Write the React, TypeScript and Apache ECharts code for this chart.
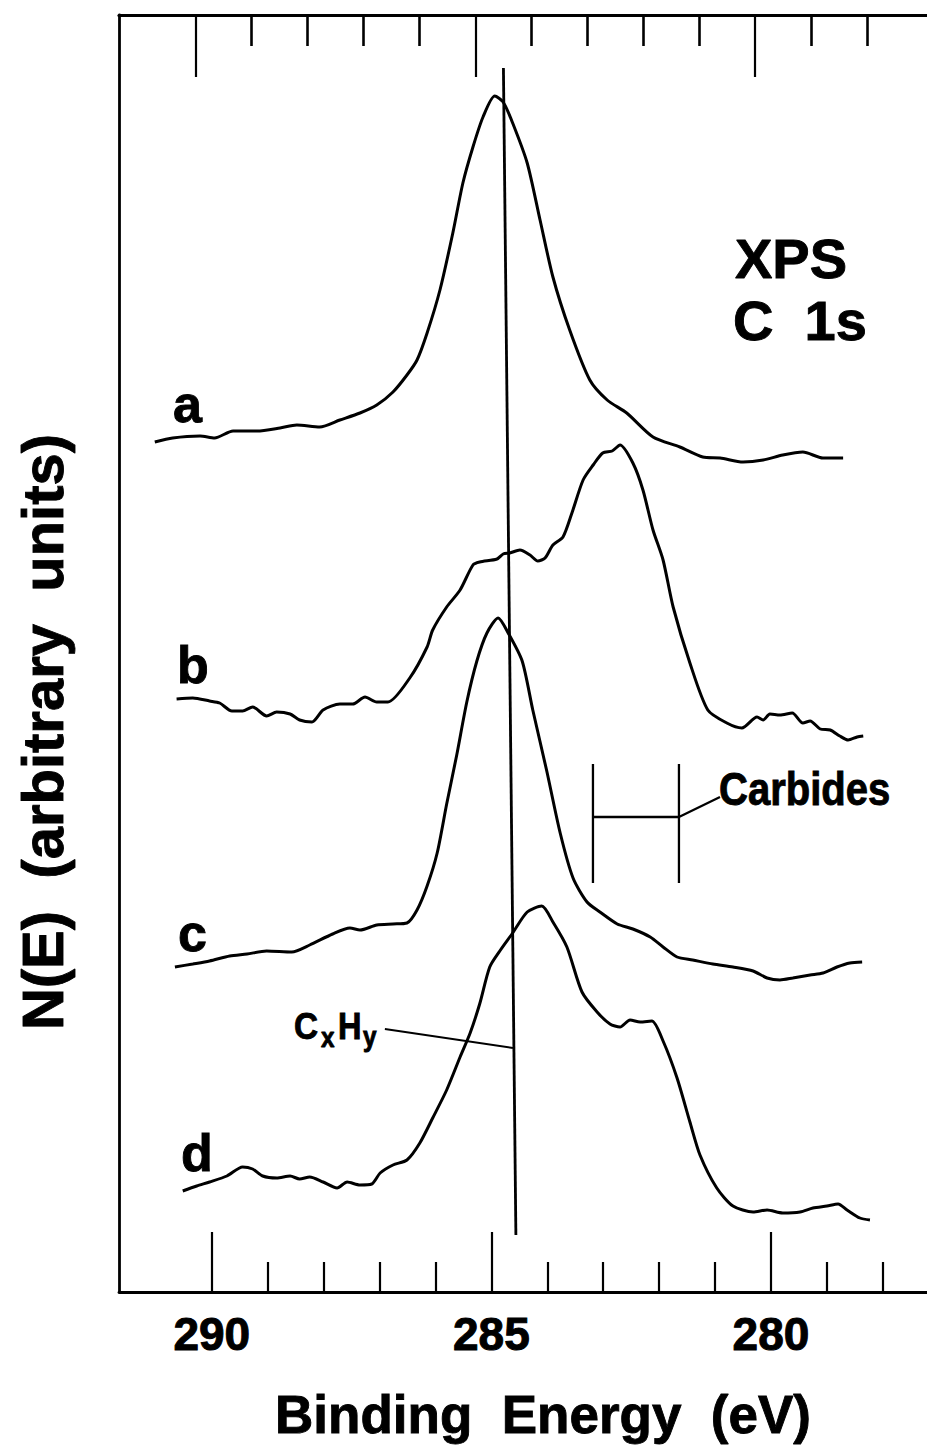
import { useEffect, useRef } from "react";
import * as echarts from "echarts";

// Binding energy (eV) vs N(E) (arbitrary units, curves offset as in the figure)
const curveA: [number, number][] = [
  [291.02, 85.0], [290.70, 85.4], [290.21, 85.6], [289.95, 85.4], [289.62, 86.1], [289.19, 86.1],
  [288.78, 86.4], [288.48, 86.7], [288.07, 86.5], [287.71, 87.2], [287.35, 87.9], [287.05, 88.7],
  [286.76, 90.0], [286.51, 91.7], [286.33, 93.2], [286.15, 95.9], [285.92, 100.2], [285.69, 105.9],
  [285.51, 110.9], [285.33, 114.5], [285.15, 117.5], [284.94, 119.6], [284.79, 119.0], [284.62, 116.9],
  [284.36, 112.9], [284.13, 107.2], [283.90, 101.5], [283.60, 96.2], [283.24, 91.2], [282.93, 89.2],
  [282.58, 87.9], [282.11, 85.5], [281.63, 84.5], [281.22, 83.5], [280.91, 83.4], [280.50, 83.0],
  [280.14, 83.2], [279.79, 83.7], [279.43, 84.0], [279.07, 83.4], [278.71, 83.4],
];

const curveB: [number, number][] = [
  [290.63, 59.3], [290.34, 59.4], [290.04, 59.1], [289.86, 58.9], [289.64, 58.1], [289.45, 58.1],
  [289.27, 58.5], [289.02, 57.6], [288.84, 58.0], [288.60, 57.8], [288.43, 57.2], [288.21, 57.0],
  [288.01, 58.2], [287.71, 58.8], [287.48, 58.8], [287.26, 59.5], [287.05, 59.0], [286.85, 59.0],
  [286.46, 61.4], [286.15, 64.5], [286.05, 66.2], [285.80, 68.5], [285.56, 70.2], [285.33, 72.7],
  [285.21, 73.0], [284.90, 73.3], [284.79, 73.8], [284.67, 73.9], [284.49, 74.2], [284.31, 73.7],
  [284.17, 73.1], [284.04, 73.4], [283.90, 74.7], [283.72, 75.5], [283.56, 77.9], [283.36, 81.2],
  [283.18, 82.7], [283.01, 83.9], [282.84, 84.1], [282.70, 84.7], [282.47, 82.9], [282.29, 80.2],
  [282.11, 76.2], [281.93, 73.2], [281.75, 68.5], [281.45, 62.9], [281.13, 58.2], [280.79, 56.9],
  [280.52, 56.4], [280.25, 57.5], [280.14, 57.2], [280.02, 57.8], [279.84, 57.7], [279.62, 57.9],
  [279.43, 56.9], [279.30, 57.1], [279.12, 56.3], [278.94, 56.2], [278.77, 55.6], [278.62, 55.2],
  [278.46, 55.5], [278.35, 55.6],
];

const curveC: [number, number][] = [
  [290.66, 32.5], [290.34, 32.8], [290.04, 33.1], [289.68, 33.6], [289.37, 33.8], [289.02, 34.1],
  [288.57, 34.0], [288.25, 34.7], [287.84, 35.8], [287.53, 36.4], [287.35, 36.2], [287.05, 36.7],
  [286.76, 36.8], [286.51, 36.9], [286.33, 38.2], [286.15, 40.6], [285.97, 43.9], [285.80, 48.8],
  [285.62, 53.7], [285.44, 59.0], [285.26, 63.1], [285.08, 65.9], [284.88, 67.4], [284.70, 65.9],
  [284.45, 63.1], [284.26, 58.2], [284.01, 52.1], [283.77, 45.9], [283.54, 41.4], [283.29, 39.0],
  [283.06, 38.0], [282.75, 36.8], [282.47, 36.3], [282.16, 35.5], [281.93, 34.5], [281.68, 33.5],
  [281.40, 33.2], [281.04, 32.8], [280.68, 32.5], [280.32, 32.1], [280.07, 31.4], [279.84, 31.2],
  [279.61, 31.4], [279.30, 31.7], [279.07, 31.9], [278.82, 32.5], [278.59, 32.9], [278.37, 33.0],
];

const curveD: [number, number][] = [
  [290.52, 10.1], [290.27, 10.6], [290.04, 11.0], [289.73, 11.6], [289.45, 12.5], [289.27, 12.3],
  [289.09, 11.6], [288.84, 11.4], [288.60, 11.6], [288.43, 11.3], [288.25, 11.5], [288.01, 11.0],
  [287.76, 10.4], [287.58, 11.0], [287.35, 10.7], [287.14, 10.8], [286.99, 11.9], [286.76, 12.7],
  [286.51, 13.2], [286.28, 14.9], [286.05, 17.4], [285.80, 20.2], [285.56, 23.5], [285.38, 25.9],
  [285.21, 28.8], [285.03, 32.5], [284.85, 34.1], [284.62, 35.9], [284.36, 38.0], [284.10, 38.6],
  [283.90, 37.0], [283.65, 34.5], [283.38, 30.0], [283.11, 28.0], [282.88, 26.8], [282.70, 26.5],
  [282.52, 27.2], [282.34, 27.0], [282.13, 27.1], [281.93, 25.1], [281.68, 21.4], [281.45, 17.0],
  [281.27, 13.7], [280.97, 10.4], [280.68, 8.6], [280.32, 8.0], [280.07, 8.2], [279.79, 7.9],
  [279.48, 8.0], [279.25, 8.4], [279.00, 8.6], [278.80, 8.8], [278.64, 8.2], [278.41, 7.4],
  [278.23, 7.2],
];

// Reference line for CxHy and its leader
const cxhyLine: [number, number][] = [[284.785, 122.4], [284.562, 5.7]];
const cxhyLeader: [number, number][] = [[286.905, 26.3], [284.615, 24.4]];

// Carbides range bracket
const carbideLeft: [number, number][] = [[283.184, 52.8], [283.184, 40.9]];
const carbideRight: [number, number][] = [[281.646, 52.8], [281.646, 40.9]];
const carbideBar: [number, number][] = [[283.184, 47.5], [281.646, 47.5], [280.912, 49.5]];

const majorTicks = [290, 285, 280];
const minorTicks = [289, 288, 287, 286, 284, 283, 282, 281, 279, 278];

const xMin = 277.21;
const xMax = 291.66;
const topShift = 0.286; // scanned frame skew of the upper tick scale
const yMin = 0;
const yMax = 127.7;

const FONT = '"Liberation Sans", Arial, Helvetica, sans-serif';

export default function App() {
  const ref = useRef<HTMLDivElement>(null);

  useEffect(() => {
    if (!ref.current) return;
    const chart = echarts.init(ref.current, null, { renderer: "svg" });

    const lineSeries = (data: [number, number][], width: number, smooth: number | boolean = false) => ({
      type: "line",
      data,
      showSymbol: false,
      symbol: "none",
      smooth,
      silent: true,
      lineStyle: { color: "#000", width },
      xAxisIndex: 0,
      yAxisIndex: 0,
    });

    const baseX = (position: string, min: number, max: number) => ({
      type: "value",
      position,
      min,
      max,
      inverse: true,
      splitLine: { show: false },
      axisLine: { show: false },
      axisLabel: { show: false },
      axisTick: { show: false },
    });

    const txt = (
      text: string,
      x: number,
      y: number,
      size: number,
      align = "left",
      rotation = 0,
      scaleX = 1
    ) => ({
      type: "text",
      x,
      y,
      rotation,
      scaleX,
      silent: true,
      style: {
        text,
        fill: "#000",
        stroke: "#000",
        lineWidth: 0.9,
        font: `bold ${size}px ${FONT}`,
        textAlign: align,
        textVerticalAlign: "middle",
      },
    });

    chart.setOption({
      animation: false,
      backgroundColor: "#fff",
      grid: { left: 119, right: 0, top: 15, bottom: 153, containLabel: false },
      xAxis: [
        {
          ...baseX("bottom", xMin, xMax),
          axisLine: { show: true, onZero: false, lineStyle: { color: "#000", width: 2.8 } },
          axisTick: {
            show: true,
            inside: true,
            length: 60,
            customValues: majorTicks,
            lineStyle: { color: "#000", width: 2.2 },
          },
          axisLabel: {
            show: true,
            customValues: majorTicks,
            margin: 19,
            color: "#000",
            fontSize: 46,
            fontWeight: "bold",
            fontFamily: FONT,
            textBorderColor: "#000",
            textBorderWidth: 1,
          },
        },
        {
          ...baseX("bottom", xMin, xMax),
          axisTick: {
            show: true,
            inside: true,
            length: 30,
            customValues: minorTicks,
            lineStyle: { color: "#000", width: 2.2 },
          },
        },
        {
          ...baseX("top", xMin - topShift, xMax - topShift),
          axisLine: { show: true, onZero: false, lineStyle: { color: "#000", width: 3.2 } },
          axisTick: {
            show: true,
            inside: true,
            length: 62,
            customValues: majorTicks,
            lineStyle: { color: "#000", width: 2.2 },
          },
        },
        {
          ...baseX("top", xMin - topShift, xMax - topShift),
          axisTick: {
            show: true,
            inside: true,
            length: 31,
            customValues: minorTicks,
            lineStyle: { color: "#000", width: 2.6 },
          },
        },
      ],
      yAxis: {
        type: "value",
        min: yMin,
        max: yMax,
        position: "left",
        splitLine: { show: false },
        axisLabel: { show: false },
        axisTick: { show: false },
        axisLine: { show: true, onZero: false, lineStyle: { color: "#000", width: 2.8 } },
      },
      series: [
        lineSeries(curveA, 3, 0.25),
        lineSeries(curveB, 3, 0.25),
        lineSeries(curveC, 3, 0.25),
        lineSeries(curveD, 3, 0.25),
        lineSeries(cxhyLine, 2.8),
        lineSeries(cxhyLeader, 1.9),
        lineSeries(carbideLeft, 2.3),
        lineSeries(carbideRight, 2.3),
        lineSeries(carbideBar, 2.3),
      ],
      graphic: [
        txt("a", 173, 404, 52),
        txt("b", 177, 665, 52),
        txt("c", 178, 933, 52),
        txt("d", 181, 1153, 52),
        txt("XPS", 735, 258.6, 56),
        txt("C  1s", 733, 320.6, 56),
        txt("Carbides", 719, 789, 46, "left", 0, 0.87),
        txt("C", 294, 1025.5, 37, "left", 0, 0.9),
        txt("x", 321, 1037.5, 27, "left", 0, 0.9),
        txt("H", 338, 1025.5, 37, "left", 0, 0.88),
        txt("y", 363, 1037, 27, "left", 0, 0.9),
        txt("Binding  Energy  (eV)", 543, 1414, 53, "center"),
        txt("N(E)  (arbitrary  units)", 42.5, 732, 58, "center", Math.PI / 2),
      ],
    });

    return () => chart.dispose();
  }, []);

  return (
    <div
      ref={ref}
      style={{ position: "absolute", left: 0, top: 0, width: 927, height: 1445, background: "#fff" }}
    />
  );
}
